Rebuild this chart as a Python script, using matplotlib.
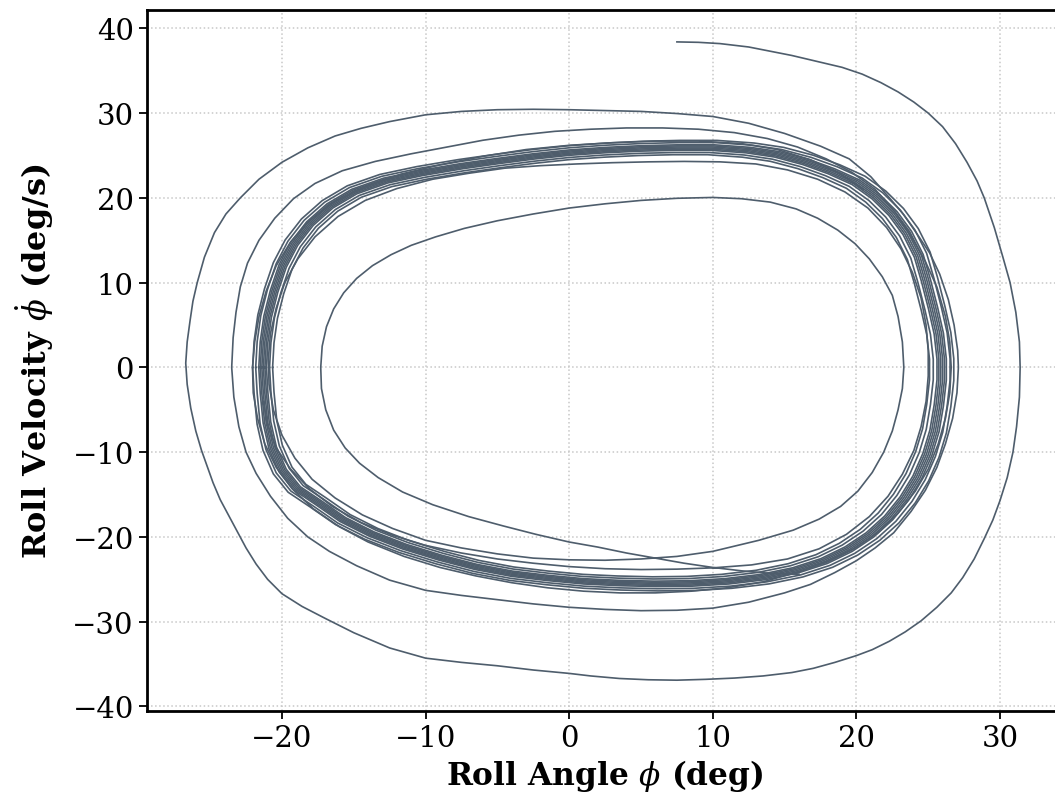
import matplotlib
matplotlib.use("Agg")
import matplotlib.pyplot as plt

plt.rcParams["font.family"] = "DejaVu Serif"
plt.rcParams["mathtext.fontset"] = "dejavuserif"

# (roll angle deg, roll rate deg/s)

# run that starts outside and spirals in
outer_path = [
    (7.5, 38.4), (9.0, 38.35), (10.5, 38.2), (12.5, 37.8), (14.0, 37.3), (15.5, 36.8), (17.5, 36.0),
    (19.0, 35.4), (20.4, 34.6), (21.7, 33.6), (22.9, 32.5), (24.0, 31.3), (25.0, 30.0), (26.0, 28.4),
    (26.9, 26.4), (27.7, 24.2), (28.4, 22.0), (28.9, 20.0), (29.6, 16.5), (30.2, 13.0), (30.7, 10.0),
    (31.1, 6.5), (31.35, 3.0), (31.4, 0.0), (31.35, -3.5), (31.15, -7.0), (30.9, -10.0), (30.5, -13.0),
    (30.0, -15.7), (29.5, -18.0), (28.9, -20.2), (28.2, -22.6), (27.4, -24.8), (26.6, -26.6), (25.6, -28.3),
    (24.5, -29.9), (23.4, -31.2), (22.3, -32.3), (21.1, -33.3), (20.0, -34.0), (18.5, -34.8), (17.0, -35.5),
    (15.5, -36.0), (13.5, -36.4), (11.5, -36.65), (9.5, -36.8), (7.5, -36.9), (5.5, -36.85), (3.5, -36.7),
    (1.5, -36.4), (0.0, -36.1), (-2.5, -35.7), (-5.0, -35.2), (-7.5, -34.8), (-10.0, -34.3), (-12.5, -33.1),
    (-15.0, -31.3), (-17.0, -29.6), (-18.6, -28.2), (-20.0, -26.7), (-21.0, -25.0), (-21.8, -23.2),
    (-22.5, -21.3), (-23.1, -19.4), (-23.7, -17.5), (-24.3, -15.6), (-24.8, -13.6), (-25.2, -11.7),
    (-25.6, -9.8), (-26.0, -7.5), (-26.35, -4.8), (-26.6, -2.0), (-26.7, 0.5), (-26.6, 3.0), (-26.4, 5.5),
    (-26.2, 7.8), (-25.9, 10.0), (-25.4, 13.0), (-24.7, 15.9), (-23.9, 18.1), (-22.9, 20.0), (-21.6, 22.2),
    (-20.0, 24.2), (-18.2, 25.9), (-16.3, 27.3), (-14.5, 28.2), (-12.5, 29.0), (-10.0, 29.8), (-7.5, 30.2),
    (-5.0, 30.4), (-2.5, 30.45), (0.0, 30.4), (2.5, 30.3), (5.0, 30.2), (7.5, 29.95), (10.0, 29.6),
    (12.5, 28.8), (15.0, 27.6), (17.5, 26.1), (19.5, 24.6), (21.0, 22.5), (22.3, 20.0), (23.3, 18.0),
    (24.2, 15.8), (25.1, 13.5), (25.8, 11.0), (26.4, 8.0), (26.8, 5.0), (27.05, 2.0), (27.1, 0.0),
    (27.0, -3.0), (26.7, -6.0), (26.2, -9.0), (25.6, -11.8), (24.8, -14.5), (23.8, -17.0), (22.6, -19.5),
    (21.3, -21.3), (20.0, -22.8), (18.5, -24.2), (16.8, -25.6), (15.0, -26.6), (12.5, -27.7), (10.0, -28.4),
    (7.5, -28.65), (5.0, -28.7), (2.5, -28.55), (0.0, -28.3), (-2.5, -27.9), (-5.0, -27.4), (-7.5, -26.9),
    (-10.0, -26.3), (-12.5, -25.1), (-14.8, -23.4), (-16.7, -21.7), (-18.2, -20.0), (-19.6, -17.8),
    (-20.8, -15.2), (-21.8, -12.5), (-22.5, -10.0), (-23.0, -7.0), (-23.35, -3.5), (-23.5, 0.0),
    (-23.4, 3.5), (-23.2, 6.5), (-22.9, 9.5), (-22.4, 12.3), (-21.6, 15.0), (-20.5, 17.6), (-19.2, 19.9),
    (-17.7, 21.7), (-15.8, 23.2), (-13.5, 24.3), (-11.0, 25.2), (-8.5, 26.0), (-6.0, 26.8), (-3.5, 27.4),
    (-1.0, 27.85), (1.5, 28.1), (4.0, 28.25), (6.5, 28.25), (9.0, 28.1), (11.5, 27.7), (13.8, 27.0),
    (15.9, 26.0), (17.9, 24.6), (19.7, 23.0), (21.3, 21.0), (22.7, 18.3), (23.8, 15.5), (24.8, 12.5),
    (25.6, 9.5), (26.2, 6.0), (26.5, 3.0), (26.6, 0.0), (26.5, -3.0), (26.2, -6.0), (25.7, -9.0),
    (25.0, -12.0), (24.1, -14.6), (22.9, -17.2), (21.5, -19.5), (19.8, -21.4), (18.0, -22.9), (16.0, -24.1),
    (13.5, -25.3), (11.0, -26.0), (8.5, -26.4), (6.0, -26.6), (3.5, -26.6), (1.0, -26.4), (-1.5, -26.0),
    (-4.0, -25.4), (-6.5, -24.6), (-9.0, -23.6), (-11.5, -22.3), (-14.0, -20.6), (-16.0, -18.8),
    (-17.8, -16.7), (-19.3, -14.3), (-20.4, -11.8), (-21.2, -9.0), (-21.7, -6.0), (-22.0, -3.0),
    (-22.05, 0.0), (-21.9, 3.0), (-21.6, 6.0), (-21.1, 9.0), (-20.4, 12.0), (-19.4, 14.8), (-18.1, 17.3),
    (-16.4, 19.5), (-14.2, 21.3), (-11.7, 22.8), (-9.0, 23.9), (-6.0, 24.9), (-3.0, 25.7), (0.0, 26.2),
    (3.0, 26.5), (6.0, 26.7), (9.0, 26.7), (12.0, 26.4), (14.5, 25.7), (16.8, 24.5), (18.8, 22.9),
    (20.5, 21.0),
]

# run that starts inside and spirals out
inner_path = [
    (16.0, -24.4), (14.0, -24.3), (12.0, -24.0), (10.0, -23.6), (8.0, -23.1), (6.0, -22.5), (4.0, -21.9),
    (2.0, -21.2), (0.0, -20.6), (-2.3, -19.7), (-4.6, -18.7), (-7.0, -17.6), (-9.5, -16.2), (-11.6, -14.7),
    (-13.3, -13.0), (-14.6, -11.3), (-15.6, -9.5), (-16.4, -7.4), (-16.95, -5.0), (-17.25, -2.5),
    (-17.3, 0.0), (-17.2, 2.5), (-16.9, 4.8), (-16.4, 6.9), (-15.7, 8.8), (-14.8, 10.5), (-13.7, 12.0),
    (-12.4, 13.3), (-11.0, 14.4), (-9.3, 15.4), (-7.3, 16.4), (-5.0, 17.3), (-2.5, 18.1), (0.0, 18.8),
    (2.5, 19.3), (5.0, 19.7), (7.5, 19.95), (10.0, 20.05), (12.0, 19.9), (14.0, 19.5), (15.8, 18.7),
    (17.3, 17.6), (18.7, 16.2), (19.9, 14.6), (20.9, 12.8), (21.8, 10.7), (22.5, 8.5), (22.9, 6.0),
    (23.2, 3.0), (23.3, 0.0), (23.2, -2.5), (22.9, -5.0), (22.5, -7.5), (21.9, -10.0), (21.1, -12.4),
    (20.1, -14.6), (18.9, -16.4), (17.4, -17.9), (15.6, -19.2), (13.2, -20.4), (10.0, -21.7), (7.5, -22.3),
    (5.0, -22.6), (2.5, -22.75), (0.0, -22.7), (-2.5, -22.5), (-5.0, -22.0), (-7.5, -21.3), (-10.0, -20.4),
    (-12.3, -19.0), (-14.4, -17.4), (-16.3, -15.4), (-17.9, -13.2), (-19.1, -10.7), (-20.0, -8.0),
    (-20.6, -5.0), (-20.9, -2.0), (-20.95, 1.0), (-20.8, 4.0), (-20.4, 7.0), (-19.8, 10.0), (-18.9, 12.8),
    (-17.7, 15.4), (-16.1, 17.8), (-14.2, 19.7), (-12.0, 21.1), (-9.5, 22.2), (-7.0, 22.9), (-4.5, 23.5),
    (-2.0, 23.8), (0.5, 24.0), (3.0, 24.15), (5.5, 24.25), (8.0, 24.3), (10.5, 24.25), (13.0, 24.0),
    (15.2, 23.3), (17.3, 22.2), (19.2, 20.7), (20.8, 18.8), (22.1, 16.5), (23.1, 14.0), (23.9, 11.2),
    (24.5, 8.2), (24.85, 5.0), (25.0, 2.0), (25.0, -1.0), (24.85, -4.0), (24.5, -7.0), (24.0, -9.8),
    (23.2, -12.6), (22.2, -15.2), (20.9, -17.6), (19.3, -19.7), (17.4, -21.4), (15.2, -22.6), (12.7, -23.3),
    (10.0, -23.65), (7.5, -23.8), (5.0, -23.85), (2.5, -23.75), (0.0, -23.5), (-2.5, -23.1), (-5.0, -22.6),
    (-7.5, -21.9), (-10.0, -21.0), (-12.3, -19.8), (-14.5, -18.3), (-16.5, -16.4), (-18.1, -14.3),
    (-19.4, -12.0), (-20.4, -9.5), (-21.0, -6.8), (-21.3, -4.0),
]

# settled limit cycle, traced along the middle of the dark band
cycle_path = [
    (-21.4, 0.0), (-21.3, 3.0), (-21.05, 6.0), (-20.6, 9.0), (-20.0, 12.0), (-19.2, 14.6), (-18.1, 17.0),
    (-16.7, 19.1), (-15.0, 20.8), (-12.8, 22.1), (-10.3, 23.0), (-7.5, 23.8), (-5.0, 24.4), (-2.5, 24.95),
    (0.0, 25.4), (2.5, 25.7), (5.0, 25.9), (7.5, 26.0), (10.0, 26.0), (12.5, 25.7), (14.5, 25.2),
    (16.5, 24.3), (18.3, 23.2), (20.0, 21.9), (21.4, 20.2), (22.6, 18.2), (23.6, 15.9), (24.4, 13.2),
    (24.9, 10.3), (25.4, 7.0), (25.8, 4.0), (26.0, 1.0), (26.0, -1.5), (25.8, -4.5), (25.5, -7.5),
    (25.0, -10.3), (24.3, -13.0), (23.4, -15.5), (22.3, -17.8), (21.0, -19.8), (19.5, -21.5), (17.8, -22.9),
    (15.8, -24.0), (13.5, -24.8), (11.0, -25.3), (8.5, -25.55), (6.0, -25.6), (3.5, -25.5), (1.0, -25.3),
    (-1.5, -24.9), (-4.0, -24.4), (-6.5, -23.6), (-9.0, -22.5), (-11.5, -21.2), (-13.8, -19.7),
    (-15.8, -18.0), (-17.5, -16.0), (-19.0, -14.3), (-20.0, -12.2), (-20.7, -9.5), (-21.1, -6.5),
    (-21.3, -3.0), (-21.4, 0.0),
]
# relative size of each pass around the cycle
cycle_ratios = [0.965, 0.975, 0.985, 0.99, 0.995, 1.0, 1.005, 1.01, 1.02, 1.03]

line_color = "#4e5d6c"

fig = plt.figure(figsize=(10.55, 8.04), dpi=100)
ax = fig.add_axes([0.1393, 0.1148, 0.8685, 0.8719])

phi, rate = zip(*outer_path)
ax.plot(phi, rate, color=line_color, lw=1.2)
phi, rate = zip(*inner_path)
ax.plot(phi, rate, color=line_color, lw=1.2)
cyc_phi, cyc_rate = zip(*cycle_path)
for r in cycle_ratios:
    ax.plot([p * r for p in cyc_phi], [v * r for v in cyc_rate], color=line_color, lw=1.2)

ax.set_xlim(-29.4, 34.4)
ax.set_ylim(-40.5, 42.2)
ax.set_xticks([-20, -10, 0, 10, 20, 30])
ax.set_yticks([-40, -30, -20, -10, 0, 10, 20, 30, 40])

ax.grid(True, linestyle=":", color="#c8c8c8", linewidth=1.1)
ax.set_axisbelow(True)

for side in ["left", "bottom", "top", "right"]:
    ax.spines[side].set_linewidth(2.0)
    ax.spines[side].set_color("black")

ax.tick_params(axis="both", labelsize=21, length=6, width=1.3, direction="out", colors="black")

ax.set_xlabel(r"Roll Angle $\phi$ (deg)", fontsize=22.5, fontweight="bold", labelpad=4)
ax.set_ylabel(r"Roll Velocity $\dot{\phi}$ (deg/s)", fontsize=23, fontweight="bold", labelpad=12)

fig.savefig("out.png", dpi=100)
